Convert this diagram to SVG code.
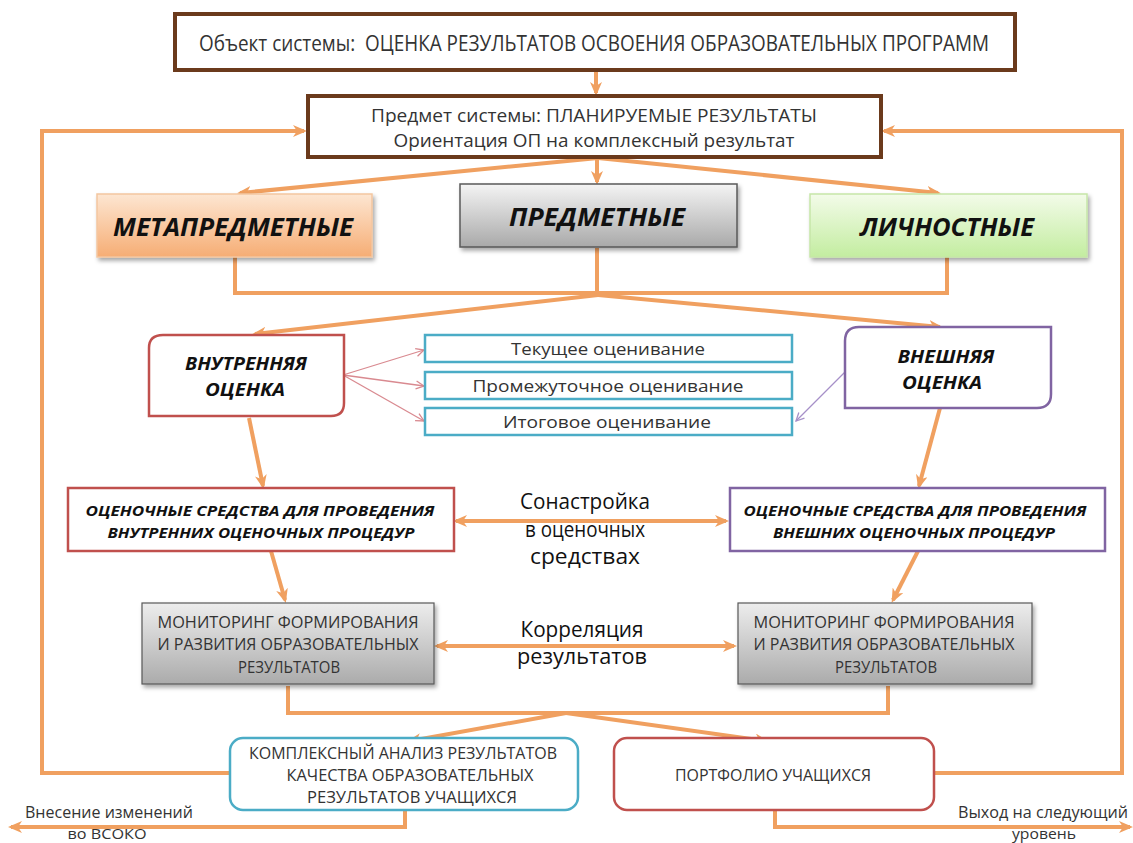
<svg xmlns="http://www.w3.org/2000/svg" width="1133" height="843" viewBox="0 0 1133 843">
<style>
text{font-family:"Open Sans","Liberation Sans",sans-serif;fill:#333;text-anchor:middle}
.bi{font-weight:bold;font-style:italic;fill:#111}
.conn{fill:none;stroke:#f0a060;stroke-width:4;stroke-linecap:butt;stroke-linejoin:miter}
.thin{fill:none;stroke:#d98a90;stroke-width:1.3}
.thinp{fill:none;stroke:#a690c8;stroke-width:1.3}
.dark{fill:#fff;stroke:#6b3a1c;stroke-width:4}
.red{fill:#fff;stroke:#c0504d;stroke-width:2.5}
.pur{fill:#fff;stroke:#8064a2;stroke-width:2.5}
.teal{fill:#fff;stroke:#4bacc6;stroke-width:2.5}
.lbl{font-size:21px;fill:#111}
</style>
<defs>
<marker id="ah" viewBox="0 0 14 12" markerWidth="14" markerHeight="12" refX="11" refY="6" orient="auto-start-reverse" markerUnits="userSpaceOnUse">
<path d="M0,0 L14,6 L0,12 L4,6 z" fill="#f0a060"/>
</marker>
<marker id="ap" viewBox="0 0 10 10" markerWidth="10" markerHeight="10" refX="9" refY="5" orient="auto" markerUnits="userSpaceOnUse">
<path d="M1,1 L9,5 L1,9" fill="none" stroke="#d98a90" stroke-width="1.3"/>
</marker>
<marker id="app" viewBox="0 0 10 10" markerWidth="10" markerHeight="10" refX="9" refY="5" orient="auto" markerUnits="userSpaceOnUse">
<path d="M1,1 L9,5 L1,9" fill="none" stroke="#a690c8" stroke-width="1.3"/>
</marker>
<linearGradient id="gOr" x1="0" y1="0" x2="0" y2="1"><stop offset="0" stop-color="#fde6d2"/><stop offset="1" stop-color="#f6ad74"/></linearGradient>
<linearGradient id="gGr" x1="0" y1="0" x2="0" y2="1"><stop offset="0" stop-color="#f4f4f4"/><stop offset="1" stop-color="#a9a9a9"/></linearGradient>
<linearGradient id="gGn" x1="0" y1="0" x2="0" y2="1"><stop offset="0" stop-color="#f3fbe9"/><stop offset="1" stop-color="#c3eda0"/></linearGradient>
<linearGradient id="gMon" x1="0" y1="0" x2="0" y2="1"><stop offset="0" stop-color="#ededed"/><stop offset="1" stop-color="#ababab"/></linearGradient>
<filter id="sh" x="-10%" y="-10%" width="125%" height="130%"><feDropShadow dx="2" dy="3" stdDeviation="2" flood-color="#000" flood-opacity="0.35"/></filter>
</defs>
<rect width="1133" height="843" fill="#fff"/>

<g id="connectors">
<path class="conn" d="M596,70 V93" marker-end="url(#ah)"/>
<path class="conn" d="M598,158 L240,193" marker-end="url(#ah)"/>
<path class="conn" d="M597,158 V182" marker-end="url(#ah)"/>
<path class="conn" d="M598,158 L938,193" marker-end="url(#ah)"/>
<path class="conn" d="M235,257 V293 H947 V257"/>
<path class="conn" d="M597,248 V293"/>
<path class="conn" d="M598,295 L255,334" marker-end="url(#ah)"/>
<path class="conn" d="M598,295 L940,327" marker-end="url(#ah)"/>
<path class="thin" d="M343,375 L424,350" marker-end="url(#ap)"/>
<path class="thin" d="M343,375 L424,386" marker-end="url(#ap)"/>
<path class="thin" d="M343,375 L424,421" marker-end="url(#ap)"/>
<path class="thinp" d="M845,372 L796,421" marker-end="url(#app)"/>
<path class="conn" d="M249,418 L263,486" marker-end="url(#ah)"/>
<path class="conn" d="M940,408 L919,486" marker-end="url(#ah)"/>
<path class="conn" d="M456,521 H726" marker-start="url(#ah)" marker-end="url(#ah)"/>
<path class="conn" d="M271,551 L285,600" marker-end="url(#ah)"/>
<path class="conn" d="M918,551 L893,600" marker-end="url(#ah)"/>
<path class="conn" d="M437,646 H734" marker-start="url(#ah)" marker-end="url(#ah)"/>
<path class="conn" d="M288,686 V713 H888 V686"/>
<path class="conn" d="M566,713 L410,741" marker-end="url(#ah)"/>
<path class="conn" d="M566,713 L766,741" marker-end="url(#ah)"/>
<path class="conn" d="M229,773 H42 V131 H304" marker-end="url(#ah)"/>
<path class="conn" d="M935,773 H1122 V131 H884" marker-end="url(#ah)"/>
<path class="conn" d="M405,811 V827 H11" marker-end="url(#ah)"/>
<path class="conn" d="M775,810 V827 H1130" marker-end="url(#ah)"/>
</g>

<g id="n-object">
<rect class="dark" x="175" y="14" width="840" height="56"/>
<text x="594" y="51" font-size="21" textLength="790" lengthAdjust="spacingAndGlyphs" xml:space="preserve">Объект системы:  ОЦЕНКА РЕЗУЛЬТАТОВ ОСВОЕНИЯ ОБРАЗОВАТЕЛЬНЫХ ПРОГРАММ</text>
</g>

<g id="n-subject">
<rect class="dark" x="308" y="96" width="573" height="61"/>
<text x="594" y="122" font-size="18.5" textLength="446" lengthAdjust="spacingAndGlyphs">Предмет системы: ПЛАНИРУЕМЫЕ РЕЗУЛЬТАТЫ</text>
<text x="594" y="147" font-size="18.5" textLength="401" lengthAdjust="spacingAndGlyphs">Ориентация ОП на комплексный результат</text>
</g>

<g id="n-meta">
<rect x="97" y="194" width="275" height="63" fill="url(#gOr)" stroke="#f3c6a0" stroke-width="1.5" filter="url(#sh)"/>
<text class="bi" x="233" y="236" font-size="25" textLength="240" lengthAdjust="spacingAndGlyphs">МЕТАПРЕДМЕТНЫЕ</text>
</g>

<g id="n-subj">
<rect x="460" y="184" width="277" height="63" fill="url(#gGr)" stroke="#595959" stroke-width="1.5" filter="url(#sh)"/>
<text class="bi" x="597" y="226" font-size="25" textLength="176" lengthAdjust="spacingAndGlyphs">ПРЕДМЕТНЫЕ</text>
</g>

<g id="n-pers">
<rect x="810" y="194" width="277" height="63" fill="url(#gGn)" stroke="#c6e6a8" stroke-width="1.5" filter="url(#sh)"/>
<text class="bi" x="947" y="236" font-size="25" textLength="174" lengthAdjust="spacingAndGlyphs">ЛИЧНОСТНЫЕ</text>
</g>

<g id="n-internal">
<path class="red" d="M163,335 H344 V403 Q344,416 331,416 H149 V348 Q149,335 163,335 Z"/>
<text class="bi" x="246" y="370" font-size="18" textLength="122" lengthAdjust="spacingAndGlyphs">ВНУТРЕННЯЯ</text>
<text class="bi" x="245" y="396" font-size="18" textLength="80" lengthAdjust="spacingAndGlyphs">ОЦЕНКА</text>
</g>

<g id="n-current">
<rect class="teal" x="425" y="335" width="367" height="27"/>
<text x="608" y="355" font-size="17" textLength="194" lengthAdjust="spacingAndGlyphs">Текущее оценивание</text>
</g>
<g id="n-interim">
<rect class="teal" x="425" y="372" width="367" height="27"/>
<text x="608" y="392" font-size="17" textLength="271" lengthAdjust="spacingAndGlyphs">Промежуточное оценивание</text>
</g>
<g id="n-final">
<rect class="teal" x="425" y="408" width="367" height="27"/>
<text x="607" y="428" font-size="17" textLength="208" lengthAdjust="spacingAndGlyphs">Итоговое оценивание</text>
</g>

<g id="n-external">
<path class="pur" d="M859,327 H1051 V394 Q1051,408 1037,408 H845 V341 Q845,327 859,327 Z"/>
<text class="bi" x="946" y="363" font-size="18" textLength="97" lengthAdjust="spacingAndGlyphs">ВНЕШНЯЯ</text>
<text class="bi" x="942" y="389" font-size="18" textLength="80" lengthAdjust="spacingAndGlyphs">ОЦЕНКА</text>
</g>

<g id="n-tools-int">
<rect class="red" x="68" y="488" width="386" height="63"/>
<text class="bi" x="260" y="516" font-size="15" textLength="349" lengthAdjust="spacingAndGlyphs">ОЦЕНОЧНЫЕ СРЕДСТВА ДЛЯ ПРОВЕДЕНИЯ</text>
<text class="bi" x="261" y="538" font-size="15" textLength="307" lengthAdjust="spacingAndGlyphs">ВНУТРЕННИХ ОЦЕНОЧНЫХ ПРОЦЕДУР</text>
</g>

<g id="n-tools-ext">
<rect class="pur" x="730" y="488" width="375" height="63"/>
<text class="bi" x="915" y="516" font-size="15" textLength="343" lengthAdjust="spacingAndGlyphs">ОЦЕНОЧНЫЕ СРЕДСТВА ДЛЯ ПРОВЕДЕНИЯ</text>
<text class="bi" x="914" y="538" font-size="15" textLength="282" lengthAdjust="spacingAndGlyphs">ВНЕШНИХ ОЦЕНОЧНЫХ ПРОЦЕДУР</text>
</g>

<g id="l-tuning">
<text class="lbl" x="585" y="509" textLength="130" lengthAdjust="spacingAndGlyphs">Сонастройка</text>
<text class="lbl" x="585" y="537" textLength="120" lengthAdjust="spacingAndGlyphs">в оценочных</text>
<text class="lbl" x="585" y="564" textLength="110" lengthAdjust="spacingAndGlyphs">средствах</text>
</g>

<g id="n-mon-int">
<rect x="142" y="603" width="292" height="81" fill="url(#gMon)" stroke="#595959" stroke-width="1.2" filter="url(#sh)"/>
<text x="288" y="628" font-size="16.5" textLength="261" lengthAdjust="spacingAndGlyphs">МОНИТОРИНГ ФОРМИРОВАНИЯ</text>
<text x="288" y="650" font-size="16.5" textLength="261" lengthAdjust="spacingAndGlyphs">И РАЗВИТИЯ ОБРАЗОВАТЕЛЬНЫХ</text>
<text x="289" y="673" font-size="16.5" textLength="102" lengthAdjust="spacingAndGlyphs">РЕЗУЛЬТАТОВ</text>
</g>

<g id="n-mon-ext">
<rect x="738" y="603" width="294" height="81" fill="url(#gMon)" stroke="#595959" stroke-width="1.2" filter="url(#sh)"/>
<text x="884" y="628" font-size="16.5" textLength="261" lengthAdjust="spacingAndGlyphs">МОНИТОРИНГ ФОРМИРОВАНИЯ</text>
<text x="884" y="650" font-size="16.5" textLength="261" lengthAdjust="spacingAndGlyphs">И РАЗВИТИЯ ОБРАЗОВАТЕЛЬНЫХ</text>
<text x="886" y="673" font-size="16.5" textLength="102" lengthAdjust="spacingAndGlyphs">РЕЗУЛЬТАТОВ</text>
</g>

<g id="l-correlation">
<text class="lbl" x="582" y="637" textLength="123" lengthAdjust="spacingAndGlyphs">Корреляция</text>
<text class="lbl" x="582" y="664" textLength="130" lengthAdjust="spacingAndGlyphs">результатов</text>
</g>

<g id="n-analysis">
<rect class="teal" x="230" y="738" width="348" height="72" rx="13"/>
<text x="403" y="759" font-size="16.5" textLength="308" lengthAdjust="spacingAndGlyphs">КОМПЛЕКСНЫЙ АНАЛИЗ РЕЗУЛЬТАТОВ</text>
<text x="410" y="781" font-size="16.5" textLength="247" lengthAdjust="spacingAndGlyphs">КАЧЕСТВА ОБРАЗОВАТЕЛЬНЫХ</text>
<text x="412" y="803" font-size="16.5" textLength="210" lengthAdjust="spacingAndGlyphs">РЕЗУЛЬТАТОВ УЧАЩИХСЯ</text>
</g>

<g id="n-portfolio">
<rect class="red" x="614" y="738" width="320" height="72" rx="13"/>
<text x="773" y="781" font-size="16.5" textLength="196" lengthAdjust="spacingAndGlyphs">ПОРТФОЛИО УЧАЩИХСЯ</text>
</g>

<g id="l-out-left">
<text x="109" y="818" font-size="15.5" textLength="168" lengthAdjust="spacingAndGlyphs">Внесение изменений</text>
<text x="107" y="839" font-size="14" textLength="79" lengthAdjust="spacingAndGlyphs">во ВСОКО</text>
</g>
<g id="l-out-right">
<text x="1043" y="818" font-size="15.5" textLength="170" lengthAdjust="spacingAndGlyphs">Выход на следующий</text>
<text x="1044" y="839" font-size="14" textLength="64" lengthAdjust="spacingAndGlyphs">уровень</text>
</g>
</svg>
